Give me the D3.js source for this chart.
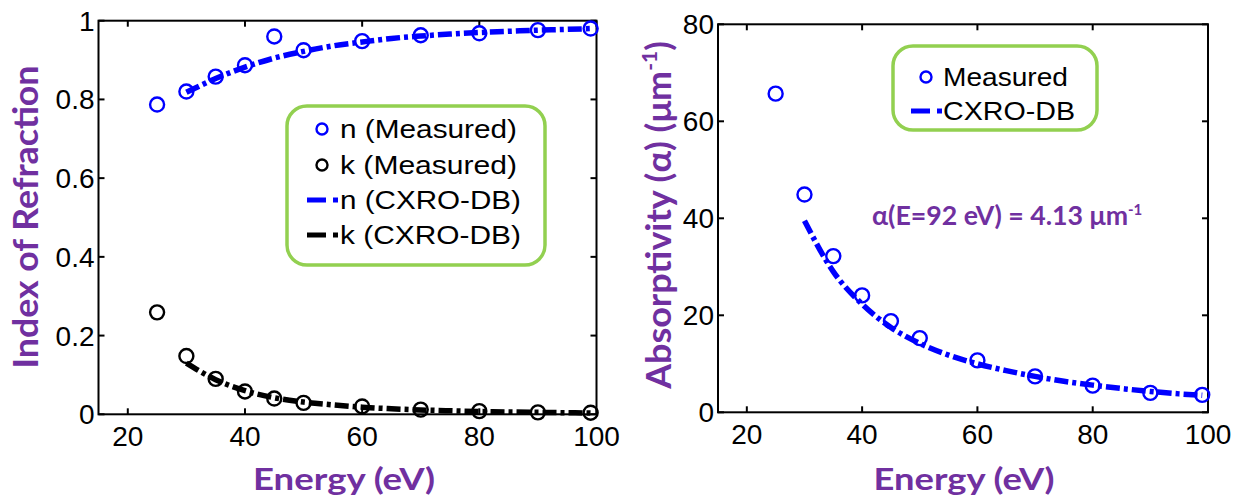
<!DOCTYPE html>
<html>
<head>
<meta charset="utf-8">
<script src="https://cdn.jsdelivr.net/npm/d3@7"></script>
<style>
  body { margin: 0; background: #fff; }
  svg text { font-family: "Liberation Sans", Arial, sans-serif; }
  .title { font-family: Lato, "Open Sans", sans-serif; font-weight: 700; fill: #7030A0; }
</style>
</head>
<body>
<div id="chart"></div>
<script>
// measured energies (eV)
var energies = [25, 30, 35, 40, 45, 50, 60, 70, 80, 90, 99];
var nMeasured = [0.787, 0.820, 0.858, 0.887, 0.960, 0.925, 0.948, 0.963, 0.968, 0.976, 0.980];
var kMeasured = [0.259, 0.148, 0.090, 0.058, 0.040, 0.029, 0.020, 0.012, 0.008, 0.005, 0.004];
var alphaMeasured = [65.7, 44.9, 32.2, 24.1, 18.8, 15.3, 10.7, 7.4, 5.5, 4.0, 3.6];

// CXRO database curves
var cxroEnergies = [30, 35, 40, 45, 50, 55, 60, 65, 70, 75, 80, 85, 90, 95, 99];
var nCxro = [0.818, 0.853, 0.882, 0.905, 0.922, 0.936, 0.946, 0.955, 0.961, 0.966, 0.970, 0.973, 0.976, 0.978, 0.980];
var kCxro = [0.130, 0.088, 0.060, 0.042, 0.031, 0.024, 0.018, 0.014, 0.011, 0.009, 0.007, 0.006, 0.005, 0.004, 0.003];
var alphaCxro = [39.5, 29.0, 22.3, 17.5, 14.2, 11.8, 10.0, 8.6, 7.4, 6.4, 5.6, 4.9, 4.3, 3.8, 3.5];

var xTicks = [20, 40, 60, 80, 100];
var nkTicks = [0, 0.2, 0.4, 0.6, 0.8, 1];
var alphaTicks = [0, 20, 40, 60, 80];

var blue = "#0000ff", purple = "#7030A0", green = "#92D050";
var dash = "14,4,4,4";

var svg = d3.select("#chart").append("svg")
    .attr("width", 1243)
    .attr("height", 502);

function frame(x, y, yTicks) {
  var g = svg.append("g");
  var x0 = x.range()[0], x1 = x.range()[1], y0 = y.range()[0], y1 = y.range()[1];
  g.append("rect")
    .attr("x", x0).attr("y", y1)
    .attr("width", x1 - x0).attr("height", y0 - y1)
    .attr("fill", "none").attr("stroke", "#000").attr("stroke-width", 2);
  xTicks.forEach(function(t) {
    g.append("line").attr("x1", x(t)).attr("x2", x(t)).attr("y1", y0).attr("y2", y0 - 6)
      .attr("stroke", "#000").attr("stroke-width", 2);
    g.append("line").attr("x1", x(t)).attr("x2", x(t)).attr("y1", y1).attr("y2", y1 + 6)
      .attr("stroke", "#000").attr("stroke-width", 2);
    g.append("text").attr("x", x(t)).attr("y", y0 + 32)
      .attr("text-anchor", "middle").attr("font-size", 28).text(t);
  });
  yTicks.forEach(function(t) {
    g.append("line").attr("x1", x0).attr("x2", x0 + 6).attr("y1", y(t)).attr("y2", y(t))
      .attr("stroke", "#000").attr("stroke-width", 2);
    g.append("line").attr("x1", x1).attr("x2", x1 - 6).attr("y1", y(t)).attr("y2", y(t))
      .attr("stroke", "#000").attr("stroke-width", 2);
    g.append("text").attr("x", x0 - 4).attr("y", y(t) + 10)
      .attr("text-anchor", "end").attr("font-size", 28).text(t);
  });
}

function curve(x, y, xs, ys, color) {
  var line = d3.line()
    .x(function(d) { return x(d[0]); })
    .y(function(d) { return y(d[1]); })
    .curve(d3.curveMonotoneX);
  svg.append("path")
    .datum(d3.zip(xs, ys))
    .attr("d", line)
    .attr("fill", "none").attr("stroke", color)
    .attr("stroke-width", 5.5).attr("stroke-dasharray", dash);
}

function dots(x, y, xs, ys, color) {
  svg.append("g").selectAll("circle")
    .data(d3.zip(xs, ys))
    .enter().append("circle")
    .attr("cx", function(d) { return x(d[0]); })
    .attr("cy", function(d) { return y(d[1]); })
    .attr("r", 7)
    .attr("fill", "none").attr("stroke", color).attr("stroke-width", 2.4);
}

function legend(bx, by, bw, bh, items) {
  svg.append("rect").attr("x", bx).attr("y", by).attr("width", bw).attr("height", bh)
    .attr("rx", 20).attr("fill", "#fff").attr("stroke", green).attr("stroke-width", 3.5);
  items.forEach(function(it) {
    if (it.type == "circle") {
      svg.append("circle").attr("cx", it.sx).attr("cy", it.y).attr("r", 5.5)
        .attr("fill", "none").attr("stroke", it.color).attr("stroke-width", 2.4);
    } else {
      svg.append("line").attr("x1", it.sx - 15).attr("x2", it.sx + 16).attr("y1", it.y).attr("y2", it.y)
        .attr("stroke", it.color).attr("stroke-width", 5).attr("stroke-dasharray", "19,7,5,20");
    }
    svg.append("text").attr("x", it.tx).attr("y", it.y + 9).attr("font-size", 26)
      .attr("textLength", it.w).attr("lengthAdjust", "spacingAndGlyphs").text(it.label);
  });
}

// left: index of refraction
var xL = d3.scaleLinear().domain([15, 100]).range([98.5, 596.5]);
var yL = d3.scaleLinear().domain([0, 1]).range([414.3, 20.7]);
frame(xL, yL, nkTicks);
curve(xL, yL, cxroEnergies, nCxro, blue);
curve(xL, yL, cxroEnergies, kCxro, "#000");
dots(xL, yL, energies, nMeasured, blue);
dots(xL, yL, energies, kMeasured, "#000");

legend(287, 106, 258, 159, [
  {type: "circle", color: blue, sx: 322, tx: 340, y: 129, w: 177, label: "n (Measured)"},
  {type: "circle", color: "#000", sx: 322, tx: 340, y: 165, w: 177, label: "k (Measured)"},
  {type: "line", color: blue, sx: 322, tx: 340, y: 200, w: 181, label: "n (CXRO-DB)"},
  {type: "line", color: "#000", sx: 322, tx: 340, y: 235, w: 181, label: "k (CXRO-DB)"}
]);

svg.append("text").attr("class", "title")
  .attr("transform", "translate(38,217) rotate(-90)")
  .attr("text-anchor", "middle").attr("font-size", 35)
  .attr("textLength", 303).attr("lengthAdjust", "spacingAndGlyphs")
  .text("Index of Refraction");
svg.append("text").attr("class", "title")
  .attr("x", 344).attr("y", 490)
  .attr("text-anchor", "middle").attr("font-size", 31)
  .attr("textLength", 182).attr("lengthAdjust", "spacingAndGlyphs")
  .text("Energy (eV)");

// right: absorptivity
var xR = d3.scaleLinear().domain([15, 100]).range([718, 1208]);
var yR = d3.scaleLinear().domain([0, 80]).range([412.3, 24.3]);
frame(xR, yR, alphaTicks);
curve(xR, yR, cxroEnergies, alphaCxro, blue);
dots(xR, yR, energies, alphaMeasured, blue);

legend(893, 46, 204, 84, [
  {type: "circle", color: blue, sx: 926, tx: 943, y: 77, w: 125, label: "Measured"},
  {type: "line", color: blue, sx: 926, tx: 943, y: 111, w: 132, label: "CXRO-DB"}
]);

var ylab = svg.append("text").attr("class", "title")
  .attr("transform", "translate(671,215) rotate(-90)")
  .attr("text-anchor", "middle").attr("font-size", 35);
ylab.append("tspan").attr("textLength", 318).attr("lengthAdjust", "spacingAndGlyphs")
  .text("Absorptivity (α) (μm");
ylab.append("tspan").attr("font-size", 21).attr("dy", -14).text("-1");
ylab.append("tspan").attr("dy", 14).text(")");

var ann = svg.append("text").attr("class", "title")
  .attr("x", 872).attr("y", 225).attr("font-size", 26);
ann.append("tspan").attr("textLength", 256).attr("lengthAdjust", "spacingAndGlyphs")
  .text("α(E=92 eV) = 4.13 μm");
ann.append("tspan").attr("font-size", 15).attr("dy", -10).text("-1");

svg.append("text").attr("class", "title")
  .attr("x", 964).attr("y", 490)
  .attr("text-anchor", "middle").attr("font-size", 31)
  .attr("textLength", 181).attr("lengthAdjust", "spacingAndGlyphs")
  .text("Energy (eV)");
</script>
</body>
</html>
